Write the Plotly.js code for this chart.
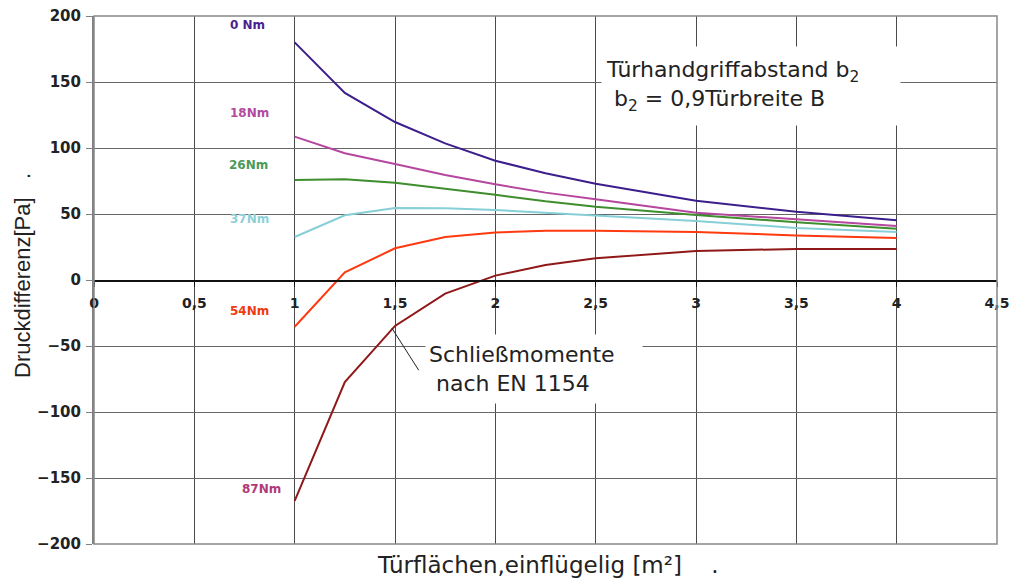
<!DOCTYPE html>
<html>
<head>
<meta charset="utf-8">
<script src="https://cdn.plot.ly/plotly-3.0.1.min.js"></script>
<style>
  html, body { margin: 0; padding: 0; background: #fff; }
  #chart { width: 1012px; height: 580px; }
</style>
</head>
<body>
<div id="chart"></div>
<script>
// ---- data ----
const doorArea = [1, 1.25, 1.5, 1.75, 2, 2.25, 2.5, 3, 3.5, 4];
const nm0  = [180, 141.7, 119.7, 103.5, 90.4, 80.8, 72.9, 60.1, 51.7, 45.2];
const nm18 = [108.6, 96, 87.9, 79.5, 72.5, 66.2, 61.1, 51, 46, 41];
const nm26 = [75.8, 76.3, 73.7, 69.2, 64.6, 59.6, 55.5, 49.2, 43.7, 38.9];
const nm37 = [32.6, 49, 54.5, 54.3, 53, 51, 48.7, 44.7, 39.4, 36.4];
const nm54 = [-35.4, 5.8, 24, 32.6, 35.9, 37.4, 37.4, 36.4, 33.8, 31.8];
const nm87 = [-167.4, -77.3, -34.8, -10.3, 3.3, 11.4, 16.4, 22, 23.5, 23.5];
const seriesNames = ['0 Nm', '18Nm', '26Nm', '37Nm', '54Nm', '87Nm'];
const seriesValues = [nm0, nm18, nm26, nm37, nm54, nm87];
const lineColors = ['#3c1e8c', '#b5479f', '#3e8e2e', '#86cfd6', '#ff3a10', '#901818'];
const labelColors = ['#4b1f8f', '#b44a9e', '#4a9a5a', '#8fd0d6', '#f03a10', '#b03a78'];

const traces = seriesValues.map((vals, i) => ({
  type: 'scatter', mode: 'lines', x: doorArea, y: vals, name: seriesNames[i],
  line: { color: lineColors[i], width: 2 }, showlegend: false, hoverinfo: 'x+y+name'
}));

const labelPos = [[0.767, 193.2], [0.777, 126.5], [0.772, 87.1], [0.777, 46.2], [0.777, -23.5], [0.837, -158.3]];
const annotations = seriesNames.map((n, i) => ({
  x: labelPos[i][0], y: labelPos[i][1], xref: 'x', yref: 'y', text: n, showarrow: false,
  font: { family: 'DejaVu Sans', size: 12, color: labelColors[i], weight: 'bold' }
}));

annotations.push({
  x: 3.272, y: 146.6, xref: 'x', yref: 'y', showarrow: false,
  text: 'Türhandgriffabstand b<sub>2</sub><br> b<sub>2</sub> = 0,9Türbreite B',
  align: 'left', width: 290, height: 70, bgcolor: '#ffffff', borderpad: 4,
  font: { family: 'DejaVu Sans', size: 22, color: '#222' }
});
annotations.push({
  x: 2.195, y: -67.4, xref: 'x', yref: 'y', showarrow: false,
  text: 'Schließmomente<br> nach EN 1154',
  align: 'left', width: 210, height: 62, bgcolor: '#ffffff', borderpad: 3,
  font: { family: 'DejaVu Sans', size: 22, color: '#222' }
});
annotations.push({
  x: 1.485, y: -36.6, xref: 'x', yref: 'y', ax: 1.623, ay: -69.5, axref: 'x', ayref: 'y',
  text: '', showarrow: true, arrowhead: 0, arrowwidth: 1, arrowcolor: '#222'
});
annotations.push({
  x: 0, y: 0.5, xref: 'paper', yref: 'paper', xanchor: 'center', yanchor: 'middle', xshift: -72, yshift: 4,
  text: 'Druckdifferenz[Pa]   .', textangle: -90, showarrow: false,
  font: { family: 'Liberation Sans, Arial', size: 22, color: '#222' }
});
annotations.push({
  x: 0.5, y: 0, xref: 'paper', yref: 'paper', xanchor: 'center', yanchor: 'middle', yshift: -21, xshift: 2,
  text: 'Türflächen,einflügelig [m²]    .', showarrow: false,
  font: { family: 'DejaVu Sans', size: 23, color: '#222' }
});

const layout = {
  width: 1012, height: 580,
  margin: { l: 94, r: 15, t: 16, b: 36, pad: 0 },
  paper_bgcolor: '#fff', plot_bgcolor: '#fff',
  separators: ', ',
  showlegend: false,
  xaxis: {
    range: [0, 4.5], dtick: 0.5, tick0: 0,
    anchor: 'free', position: 0.5,
    showline: true, linecolor: '#111', linewidth: 1.5,
    ticks: 'outside', ticklen: 5, tickcolor: '#111', tickwidth: 1,
    showgrid: true, gridcolor: '#4a4a4a', gridwidth: 1, zeroline: false,
    tickfont: { family: 'DejaVu Sans', size: 14, color: '#222', weight: 'bold' },
    ticklabelstandoff: 5,
    fixedrange: true
  },
  yaxis: {
    range: [-200, 200], dtick: 50, tick0: 0,
    showline: true, linecolor: '#808080', linewidth: 2,
    ticks: 'outside', ticklen: 6, tickcolor: '#808080', tickwidth: 1,
    showgrid: true, gridcolor: '#666', gridwidth: 1, zeroline: false,
    tickfont: { family: 'DejaVu Sans', size: 15, color: '#222', weight: 'bold' },
    ticklabelstandoff: 2,
    fixedrange: true
  },
  shapes: [{
    type: 'rect', xref: 'paper', yref: 'paper', x0: 0, x1: 1, y0: 0, y1: 1,
    line: { color: '#888', width: 1.5 }, layer: 'above'
  }],
  annotations: annotations
};

Plotly.newPlot('chart', traces, layout, { displayModeBar: false, staticPlot: true });
</script>
</body>
</html>
